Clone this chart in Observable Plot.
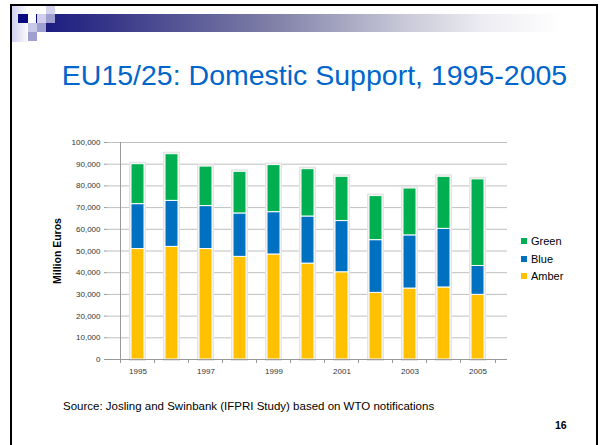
<!DOCTYPE html>
<html><head><meta charset="utf-8">
<script src="https://cdn.jsdelivr.net/npm/d3@7"></script>
<script src="https://cdn.jsdelivr.net/npm/@observablehq/plot@0.6"></script>
<style>
html,body{margin:0;padding:0;background:#fff;width:600px;height:445px;overflow:hidden;font-family:"Liberation Sans",Arial,sans-serif;}
#slide{position:absolute;left:10px;top:4px;width:584px;height:460px;border:2px solid #000;border-bottom:none;}
.sq{position:absolute;}
#title{position:absolute;left:0;width:629px;top:59px;text-align:center;font-size:28.5px;color:#0066cc;white-space:nowrap;}
#chart{position:absolute;left:0;top:130px;}
#legend{position:absolute;left:521px;top:234px;font-size:11px;color:#000;}
#legend div{height:17.5px;line-height:15px;white-space:nowrap;}
#legend span.sw{display:inline-block;width:6px;height:6px;margin-right:4px;vertical-align:1px;}
#source{position:absolute;left:63px;top:400px;font-size:11.5px;color:#000;white-space:nowrap;}
#page{position:absolute;left:555px;top:419px;font-size:10.5px;font-weight:bold;color:#000;}
</style></head>
<body>
<div id="slide"></div>
<div class="sq" style="left:12px;top:6px;width:17px;height:36px;background:linear-gradient(to right,#d0d0ec,#ffffff);"></div>
<div class="sq" style="left:40px;top:14px;width:520px;height:18px;background:linear-gradient(to right,#1a1a80 0%,#3a3a8a 15%,#8080a8 45%,#c8c8d8 70%,#ececf2 85%,#ffffff 100%);"></div>
<div class="sq" style="left:18px;top:14px;width:10px;height:9px;background:#0a0a80;"></div>
<div class="sq" style="left:36px;top:14px;width:2px;height:9px;background:#0a0a80;"></div>
<div class="sq" style="left:37px;top:14px;width:9px;height:9px;background:#d0d0ec;"></div>
<div class="sq" style="left:46px;top:6px;width:9px;height:8px;background:#d4d4ee;"></div>
<div class="sq" style="left:46px;top:14px;width:9px;height:9px;background:#a0a0d0;"></div>
<div class="sq" style="left:28px;top:23px;width:9px;height:9px;background:#c8c8e8;"></div>
<div class="sq" style="left:37px;top:23px;width:9px;height:9px;background:#a0a0d0;"></div>
<div class="sq" style="left:28px;top:32px;width:9px;height:9px;background:#a0a0d0;"></div>
<div id="title">EU15/25: Domestic Support, 1995-2005</div>
<div id="chart"></div>
<div id="legend"></div>
<div id="source">Source: Josling and Swinbank (IFPRI Study) based on WTO notifications</div>
<div id="page">16</div>
<script>
const years = [1995,1996,1997,1998,1999,2000,2001,2002,2003,2004,2005];
const amber = [50900,51900,50900,47300,48400,44200,40200,30700,32700,33200,29800];
const blue  = [20700,21200,19800,20000,19500,21700,23600,24300,24500,27000,13300];
const green = [18400,21500,18200,19200,21700,21800,20400,20300,21600,24000,39900];
const series = ["Amber","Blue","Green"];
const colors = ["#ffc000","#0070c0","#00b050"];
const yTicks = [0,10000,20000,30000,40000,50000,60000,70000,80000,90000,100000];
const xLabels = [1995,1997,1999,2001,2003,2005];

const values = {Amber: amber, Blue: blue, Green: green};
const data = [];
series.forEach(s => years.forEach((y,i) => data.push({year:y, series:s, value:values[s][i]})));
const totals = years.map((y,i) => ({year:y, total: amber[i]+blue[i]+green[i]}));

const W = 600, H = 260, ML = 107, MR = 93, MT = 12, MB = 31;
const pad = 0.63;
const probe = Plot.plot({width:W,height:H,marginLeft:ML,marginRight:MR,marginTop:MT,marginBottom:MB,
  x:{domain:years,padding:pad}, y:{domain:[0,100000]}, marks:[]});
const step = probe.scale("x").step;

const chart = Plot.plot({
  width: W, height: H,
  marginLeft: ML, marginRight: MR, marginTop: MT, marginBottom: MB,
  style: {fontFamily: '"Liberation Sans", Arial, sans-serif', fontSize: "8px", color: "#333", background: "transparent"},
  x: {domain: years, padding: pad, label: null, axis: null},
  y: {domain: [0,100000], label: null, axis: null},
  color: {domain: series, range: colors},
  marks: [
    Plot.ruleY(yTicks.slice(1), {stroke: "#bfbfbf", strokeWidth: 1}),
    Plot.barY(totals, {x: "year", y: "total", fill: "#e4e4e4", stroke: "#e4e4e4", strokeWidth: 4}),
    Plot.barY(data, Plot.stackY({x: "year", y: "value", fill: "series", order: series, stroke: "#fff", strokeWidth: 1})),
    Plot.axisY({ticks: yTicks, tickFormat: d3.format(","), tickSize: 3, tickPadding: 4, stroke: "#999", fill: "#333", fontSize: 8, label: null}),
    Plot.ruleX([0], {x: () => years[0], dx: -step/2, y1: 0, y2: 100000, stroke: "#999"}),
    Plot.ruleY([0], {stroke: "#999"}),
    Plot.axisX({ticks: years, tickFormat: () => "", tickSize: 4, dx: -step/2, stroke: "#999", label: null}),
    Plot.axisX({ticks: [years[years.length-1]], tickFormat: () => "", tickSize: 4, dx: step/2, stroke: "#999", label: null}),
    Plot.axisX({ticks: xLabels, tickFormat: d => String(d), tickSize: 0, tickPadding: 9, fill: "#333", fontSize: 8, label: null}),
    Plot.text(["Million Euros"], {frameAnchor: "left", textAnchor: "middle", dx: -50, rotate: -90, fontWeight: "bold", fontSize: 10.5, fill: "#000"})
  ]
});
document.getElementById("chart").appendChild(chart);

const leg = document.getElementById("legend");
[...series].reverse().forEach(s => {
  const i = series.indexOf(s);
  const d = document.createElement("div");
  d.innerHTML = `<span class="sw" style="background:${colors[i]}"></span>${s}`;
  leg.appendChild(d);
});
</script>
</body></html>
